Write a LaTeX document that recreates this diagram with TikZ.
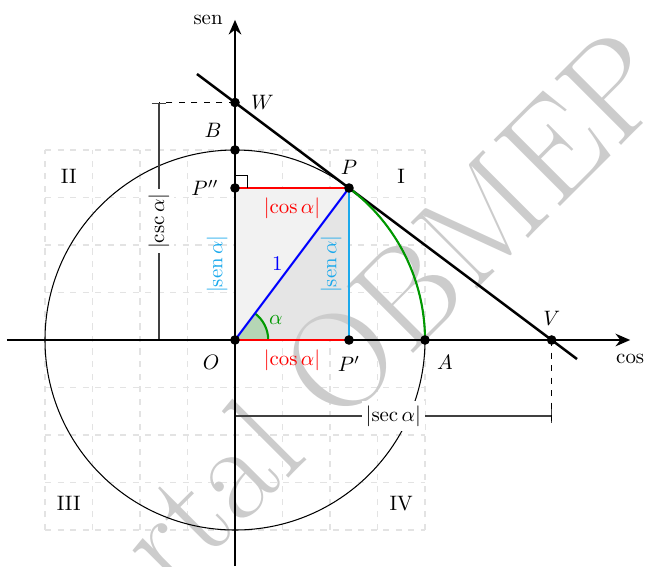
\documentclass[tikz,border=0pt]{standalone}
\usepackage{fontspec}
\usepackage{amsmath}
\usetikzlibrary{arrows.meta,calc}
\definecolor{cyanx}{HTML}{1BA9EC}
\definecolor{greenx}{HTML}{009900}
\definecolor{greenfill}{HTML}{B5D6B5}
\begin{document}
\begin{tikzpicture}[x=3.2cm,y=3.2cm,
  axis/.style={line width=1.2pt,-{Stealth[length=7pt,width=6pt]}},
  dot/.style={circle,fill=black,inner sep=0pt,minimum size=4.6pt},
  gridline/.style={gray!22,dashed,line width=0.5pt},
  seg/.style={line width=1pt},
  dimline/.style={black!75,line width=0.5pt,{Bar[width=7pt]}-{Bar[width=7pt]}},
  guide/.style={dashed,line width=0.5pt},
  ptlabel/.style={inner sep=0pt}]
\useasboundingbox (-1.2368,-1.1895) rectangle (2.1684,1.7895);
% points
\coordinate (O) at (0,0);
\coordinate (A) at (1,0);
\coordinate (B) at (0,1);
\coordinate (P) at (0.6,0.8);
\coordinate (P1) at (0.6,0);
\coordinate (P2) at (0,0.8);
\coordinate (W) at (0,1.25);
\coordinate (V) at ({5/3},0);
\coordinate (T1) at (-0.2,1.4);
\coordinate (T2) at (1.8,-0.1);
\coordinate (Xl) at (-1.2,0);
\coordinate (Xr) at (2.08,0);
\coordinate (Yb) at (0,-1.19);
\coordinate (Yt) at (0,1.685);
\coordinate (csc0) at (-0.4,0);
\coordinate (csc1) at (-0.4,1.25);
\coordinate (sec0) at (0,-0.4);
\coordinate (sec1) at ({5/3},-0.4);
\coordinate (secd) at ({5/3},-0.44);
\coordinate (alA) at (0.175,0);
% grid
\draw[gridline] (-1,-1) grid[step=0.25] (1,1);
% fills
\fill[gray!10] (O) rectangle (P);
\fill[gray!20] (O) -- (P1) -- (P) -- cycle;
\fill[greenfill] (O) -- (alA) arc[start angle=0,end angle=53.13,radius=0.175] -- cycle;
% watermark
\node[rotate=45,text=gray!40,font=\fontsize{66}{72}\selectfont] (wm) at (0.55,-0.11) {Portal OBMEP};
% circle
\draw[line width=0.5pt] (O) circle[radius=1];
% dimensions
\draw[dimline] (csc0) -- (csc1) node[midway,fill=white,rotate=90,text=black,inner sep=2pt] (lcsc) {$\lvert\csc\alpha\rvert$};
\draw[guide] (W) -- (csc1);
\draw[dimline] (sec0) -- (sec1) node[midway,fill=white,text=black,inner sep=2pt] (lsec) {$\lvert\sec\alpha\rvert$};
\draw[guide] (V) -- (secd);
% cyan on y-axis
\draw[cyanx,seg] (O) -- (P2) node[midway,above,rotate=90,inner sep=3pt] (ls1) {$\lvert\mathrm{sen}\,\alpha\rvert$};
% tangent
\draw[line width=1.2pt] (T1) -- (T2);
% axes
\draw[axis] (Xl) -- (Xr) node[below=3pt] (lcos) {cos};
\draw[axis] (Yb) -- (Yt) node[left=2pt] (lsen) {sen};
% green arcs
\draw[greenx,seg] (A) arc[start angle=0,end angle=53.13,radius=1];
\draw[greenx,seg] (alA) arc[start angle=0,end angle=53.13,radius=0.175];
\node[text=greenx] (lal) at (0.215,0.105) {$\alpha$};
% colored segments
\draw[red,seg] (O) -- (P1) node[midway,below,inner sep=4pt] (lc1) {\color{red}$\lvert\cos\alpha\rvert$};
\draw[red,seg] (P2) -- (P) node[midway,below,inner sep=4pt] (lc2) {\color{red}$\lvert\cos\alpha\rvert$};
\draw[cyanx,seg] (P1) -- (P) node[midway,above,rotate=90,inner sep=3pt] (ls2) {$\lvert\mathrm{sen}\,\alpha\rvert$};
\draw[blue,seg] (O) -- (P) node[midway,left,inner sep=4pt] (l1) {1};
% right angle
\draw[line width=0.5pt] ($(P2)+(0,0.065)$) -| ($(P2)+(0.065,0)$);
% dots
\foreach \p in {O,A,B,P,P1,P2,W,V} \node[dot] (d\p) at (\p) {};
% point labels
\node[ptlabel] (lW) at ($(W)+(0.145,0)$) {$W$};
\node[ptlabel] (lB) at ($(B)+(-0.116,0.105)$) {$B$};
\node[ptlabel] (lP) at ($(P)+(0,0.11)$) {$P$};
\node[ptlabel] (lP2) at ($(P2)+(-0.158,0)$) {$P''$};
\node[ptlabel] (lO) at ($(O)+(-0.126,-0.116)$) {$O$};
\node[ptlabel] (lP1) at ($(P1)+(0,-0.126)$) {$P'$};
\node[ptlabel] (lA) at ($(A)+(0.105,-0.116)$) {$A$};
\node[ptlabel] (lV) at ($(V)+(0,0.116)$) {$V$};
% quadrants
\node (qI) at (0.875,0.86) {I};
\node (qII) at (-0.875,0.86) {II};
\node (qIII) at (-0.875,-0.86) {III};
\node (qIV) at (0.875,-0.86) {IV};
\end{tikzpicture}
\end{document}
